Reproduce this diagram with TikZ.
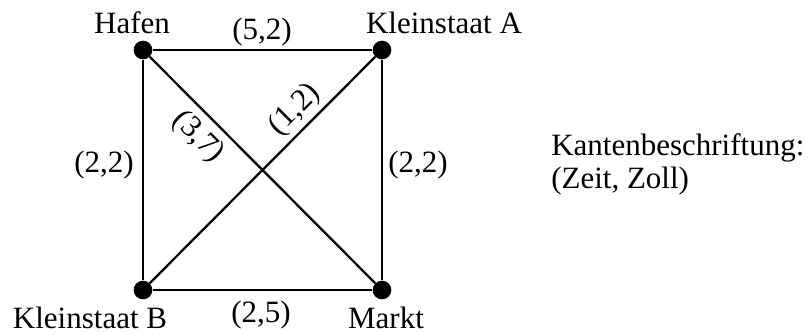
\documentclass[tikz,border=0pt]{standalone}
\usepackage{fontspec}
\setmainfont{Liberation Serif}
\begin{document}
\begin{tikzpicture}[x=0.75pt,y=-0.75pt,
  dot/.style={circle,fill=black,inner sep=0pt,minimum size=14pt},
  edge/.style={line width=1.7pt},
  txt/.style={inner sep=0pt,anchor=base,font=\fontsize{23.25}{25}\selectfont},
  rtxt/.style={inner sep=0pt,anchor=center,font=\fontsize{23.25}{25}\selectfont},
]
\useasboundingbox (0,0) rectangle (809,333);
\node[dot] (H) at (143,50) {};
\node[dot] (A) at (382,50) {};
\node[dot] (B) at (143,290) {};
\node[dot] (M) at (382,290) {};
\draw[edge] (H) -- (A);
\draw[edge] (H) -- (B);
\draw[edge] (A) -- (M);
\draw[edge] (B) -- (M);
\draw[edge] (H) -- (M);
\draw[edge] (B) -- (A);
\node[txt] (lH) at (132,33) {Hafen};
\node[txt] (lA) at (444,33) {Kleinstaat A};
\node[txt] (lB) at (90,328) {Kleinstaat B};
\node[txt] (lM) at (386,328) {Markt};
\node[txt] (e52) at (262,39) {(5,2)};
\node[txt] (e25) at (261,322) {(2,5)};
\node[txt] (e22l) at (104,172) {(2,2)};
\node[txt] (e22r) at (418,172) {(2,2)};
\node[rtxt,rotate=-45] (e37) at (198,137) {(3,7)};
\node[rtxt,rotate=45] (e12) at (295,110) {(1,2)};
\node[txt,anchor=base west] (k1) at (551,155) {Kantenbeschriftung:};
\node[txt,anchor=base west] (k2) at (551,188) {(Zeit, Zoll)};
\end{tikzpicture}
\end{document}
